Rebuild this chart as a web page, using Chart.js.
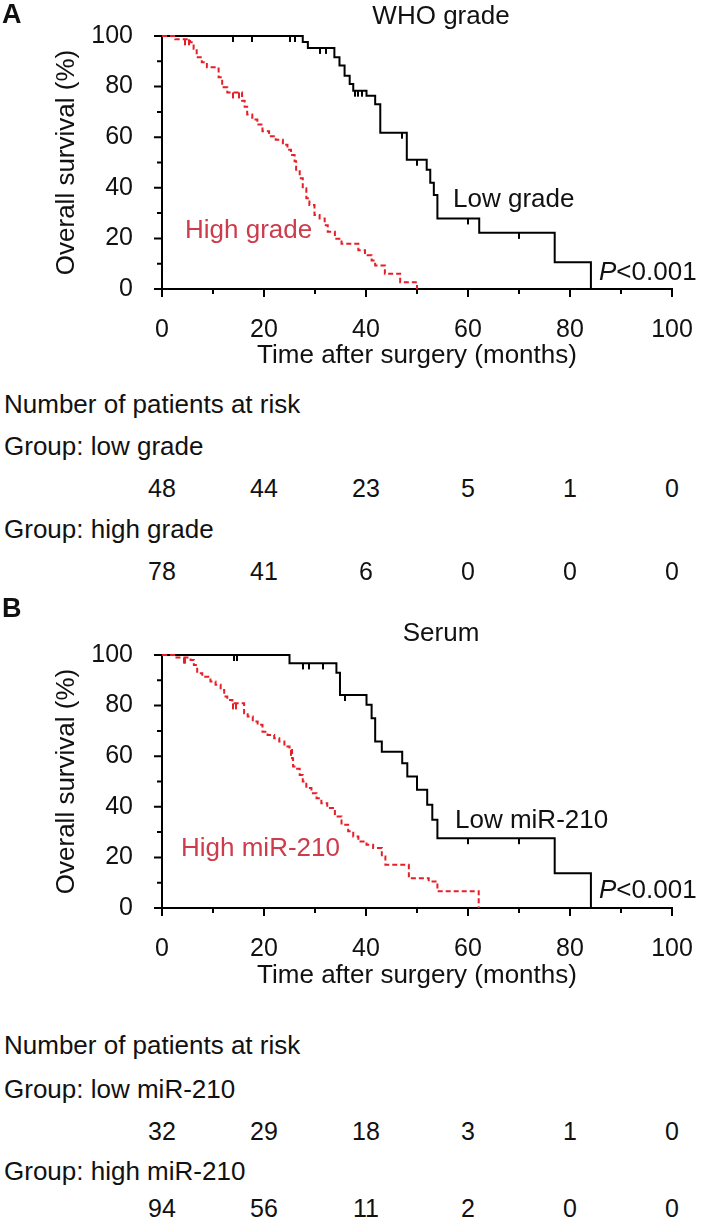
<!DOCTYPE html>
<html>
<head>
<meta charset="utf-8">
<script src="https://cdn.jsdelivr.net/npm/chart.js@4.4.1/dist/chart.umd.min.js"></script>
<style>
  body { margin: 0; background: #fff; width: 702px; height: 1225px; position: relative; overflow: hidden;
         font-family: "Liberation Sans", Arial, sans-serif; color: #111; }
  canvas { position: absolute; left: 0; }
  .t { position: absolute; white-space: nowrap; font-size: 26px; line-height: 30px; transform: translateY(-50%); }
  .c { transform: translate(-50%, -50%); }
  .red { color: #cd3c4b; }
  .num { font-size: 25px; }
  .lbl { font-weight: bold; font-size: 27px; }
</style>
</head>
<body>
<canvas id="chartA" width="702" height="380" style="top:0"></canvas>
<canvas id="chartB" width="702" height="400" style="top:600px"></canvas>

<div class="t lbl" style="left:2px;top:14px">A</div>
<div class="t c" style="left:441px;top:15px">WHO grade</div>
<div class="t" style="left:453px;top:198px">Low grade</div>
<div class="t red" style="left:185px;top:229px">High grade</div>
<div class="t" style="left:599px;top:271px"><i>P</i>&lt;0.001</div>
<div class="t" style="left:4px;top:404px">Number of patients at risk</div>
<div class="t" style="left:4px;top:446px">Group: low grade</div>
<div class="t" style="left:4px;top:529px">Group: high grade</div>

<div class="t lbl" style="left:2px;top:608px">B</div>
<div class="t c" style="left:441px;top:632px">Serum</div>
<div class="t" style="left:455px;top:819px">Low miR-210</div>
<div class="t red" style="left:181px;top:847px">High miR-210</div>
<div class="t" style="left:599px;top:889px"><i>P</i>&lt;0.001</div>
<div class="t" style="left:4px;top:1045px">Number of patients at risk</div>
<div class="t" style="left:4px;top:1089px">Group: low miR-210</div>
<div class="t" style="left:4px;top:1171px">Group: high miR-210</div>

<script>
const FONT = '"Liberation Sans", Arial, sans-serif';
const RED = '#e61e28';

// panel A: WHO grade
const lowGradeTime = [0, 27.6, 28.6, 33.8, 34.8, 35.8, 36.8, 37.5, 40.1, 41.8, 42.8, 48, 51.9, 52.6, 53.3, 54, 62.2, 77, 84.1];
const lowGradeSurv = [100, 97.6, 95.3, 91.6, 88.3, 84.3, 81, 78.4, 76.4, 73, 61.8, 51.1, 47.1, 42, 37.2, 27.9, 22.2, 10.6, 0];
const lowGradeCens = [14, 17.7, 25, 26, 30.9, 32.2, 37.8, 38.5, 39.2, 47, 50, 60, 70];

const highGradeTime = [0, 2.6, 5.5, 6.2, 6.8, 7.8, 8.8, 11.1, 11.8, 12.8, 15.7, 16.2, 16.7, 17.7, 18.7, 19.7, 21, 22.3, 23.7, 24.6, 25.3, 26,
                       26.3, 27, 27.6, 28.3, 28.9, 29.9, 30.9, 31.9, 32.5, 33.9, 35.2, 38.5, 39.8, 41.1, 41.8, 43.7, 46.7, 50];
const highGradeSurv = [100, 98.7, 97.5, 95, 91.6, 89.6, 87.6, 83.7, 79.7, 77.7, 74.4, 72, 69, 67, 65, 62.4, 60.4, 59, 57, 55, 53, 50.5,
                       46.5, 43.8, 39.8, 35.9, 33.2, 29.2, 27.9, 25.2, 22.6, 19.9, 17.9, 15.3, 13.3, 11.3, 9.3, 6, 2.7, 0];
const highGradeCens = [4.6, 5.2, 13.9, 15.1];

const riskLowGrade = [48, 44, 23, 5, 1, 0];
const riskHighGrade = [78, 41, 6, 0, 0, 0];

// panel B: serum miR-210
const lowMirTime = [0, 25, 34.2, 34.9, 40.1, 41.1, 41.8, 43.1, 47.1, 48.1, 50, 52, 53, 54, 77, 84.1];
const lowMirSurv = [100, 96.7, 93, 84.2, 80.3, 75, 65.8, 61.8, 57.2, 52, 46.7, 40.8, 34.9, 27.6, 13.7, 0];
const lowMirCens = [14.1, 14.8, 27.6, 28.9, 31.6, 35.9, 60, 70];

const highMirTime = [0, 2.6, 5.6, 6.25, 6.9, 7.9, 9.5, 10.5, 11.5, 12.2, 12.8, 13.8, 16.1, 16.8, 17.8, 18.75, 19.7, 20.7, 22, 23, 24, 25,
                     25.5, 25.7, 26.3, 27, 27.6, 28.3, 29.3, 30.3, 31.25, 32.4, 33.9, 35.2, 36.5, 37.5, 38.5, 40.1, 41.4, 43.1, 43.8,
                     48.4, 52.3, 54, 62.1];
const highMirSurv = [100, 99, 98, 96, 92.8, 91.4, 89.5, 88.2, 86.2, 83.6, 82.2, 80.9, 77, 75.7, 73.7, 72.4, 69.7, 68.4, 67.1, 65.8, 63.8, 62.5,
                     59.2, 55.9, 55, 52.6, 50, 47.4, 45.4, 43.4, 41.4, 39.5, 36.2, 32.9, 30.3, 28.3, 26.3, 25, 23.7, 20.4, 17.1,
                     11.8, 10.5, 6.6, 0];
const highMirCens = [4.3, 4.6, 13.9, 14.5, 25.3];

const riskLowMir = [32, 29, 18, 3, 1, 0];
const riskHighMir = [94, 56, 11, 2, 0, 0];

const riskCols = [0, 20, 40, 60, 80, 100];


function toPoints(times, survs) {
    return times.map((t, i) => ({ x: t, y: survs[i] }));
}

function survAt(times, survs, t) {
    let s = survs[0];
    times.forEach((tt, i) => { if (tt <= t) s = survs[i]; });
    return s;
}

function censorPoints(cens, times, survs) {
    return cens.map(t => ({ x: t, y: survAt(times, survs, t) }));
}

// small tick hanging below the curve
function censorMark(color) {
    const c = document.createElement('canvas');
    c.width = 2; c.height = 14;
    const g = c.getContext('2d');
    g.fillStyle = color;
    g.fillRect(0, 7, 2, 6);
    return c;
}

const tickMarks = {
    id: 'tickMarks',
    afterDraw(chart) {
        const ctx = chart.ctx;
        const area = chart.chartArea;
        const xs = chart.scales.x, ys = chart.scales.y;
        ctx.save();
        ctx.strokeStyle = '#000';
        ctx.lineWidth = 2;
        ctx.beginPath();
        xs.ticks.forEach(t => {
            const px = xs.getPixelForValue(t.value);
            const len = t.value % 20 === 0 ? 8 : 5;
            ctx.moveTo(px, area.bottom);
            ctx.lineTo(px, area.bottom + len);
        });
        ys.ticks.forEach(t => {
            const py = ys.getPixelForValue(t.value);
            const len = t.value % 20 === 0 ? 8 : 5;
            ctx.moveTo(area.left - len, py);
            ctx.lineTo(area.left, py);
        });
        ctx.stroke();
        ctx.restore();
    }
};

function kmOptions(top, axisHeight) {
    return {
        responsive: false,
        animation: false,
        layout: { padding: { top: top, right: 30, left: 0, bottom: 0 } },
        plugins: { legend: { display: false }, tooltip: { enabled: false } },
        scales: {
            x: {
                type: 'linear', min: 0, max: 100,
                grid: { display: false },
                border: { display: true, color: '#000', width: 2 },
                ticks: { stepSize: 10, autoSkip: false, maxRotation: 0, padding: 18, color: '#111',
                         font: { size: 25, family: FONT },
                         callback: v => v % 20 === 0 ? v : '' },
                title: { display: true, text: 'Time after surgery (months)', color: '#111',
                         font: { size: 26, family: FONT }, padding: { top: 0, bottom: 9 } },
                afterFit: s => { s.height = axisHeight; s.paddingLeft = 0; s.paddingRight = 0; }
            },
            y: {
                min: 0, max: 100,
                grid: { display: false },
                border: { display: true, color: '#000', width: 2 },
                ticks: { stepSize: 10, autoSkip: false, padding: 21, color: '#111',
                         font: { size: 25, family: FONT },
                         callback: v => v % 20 === 0 ? v : '' },
                title: { display: true, text: 'Overall survival (%)', color: '#111',
                         font: { size: 26, family: FONT }, padding: { top: 51, bottom: 0 } },
                afterFit: s => { s.width = 162; }
            }
        }
    };
}

function kmDatasets(highT, highS, highC, lowT, lowS, lowC) {
    return [
        { data: toPoints(highT, highS), stepped: true, borderColor: RED, borderWidth: 2, borderDash: [5, 3],
          pointRadius: 0, fill: false, clip: 6 },
        { data: toPoints(lowT, lowS), stepped: true, borderColor: '#000', borderWidth: 2,
          pointRadius: 0, fill: false, clip: 6 },
        { type: 'scatter', data: censorPoints(highC, highT, highS), pointStyle: censorMark(RED), clip: 8 },
        { type: 'scatter', data: censorPoints(lowC, lowT, lowS), pointStyle: censorMark('#000'), clip: 8 }
    ];
}

function addRiskRow(chart, values, cy) {
    const xs = chart.scales.x;
    values.forEach((v, i) => {
        const d = document.createElement('div');
        d.className = 't c num';
        d.style.left = xs.getPixelForValue(riskCols[i]) + 'px';
        d.style.top = cy + 'px';
        d.textContent = v;
        document.body.appendChild(d);
    });
}

function createChartA() {
    const ctx = document.getElementById('chartA').getContext('2d');
    const chart = new Chart(ctx, {
        type: 'line',
        data: { datasets: kmDatasets(highGradeTime, highGradeSurv, highGradeCens, lowGradeTime, lowGradeSurv, lowGradeCens) },
        options: kmOptions(36, 91),
        plugins: [tickMarks]
    });
    addRiskRow(chart, riskLowGrade, 488);
    addRiskRow(chart, riskHighGrade, 571);
}

function createChartB() {
    const ctx = document.getElementById('chartB').getContext('2d');
    const chart = new Chart(ctx, {
        type: 'line',
        data: { datasets: kmDatasets(highMirTime, highMirSurv, highMirCens, lowMirTime, lowMirSurv, lowMirCens) },
        options: kmOptions(55, 92),
        plugins: [tickMarks]
    });
    addRiskRow(chart, riskLowMir, 1131);
    addRiskRow(chart, riskHighMir, 1208);
}

createChartA();
createChartB();
</script>
</body>
</html>
